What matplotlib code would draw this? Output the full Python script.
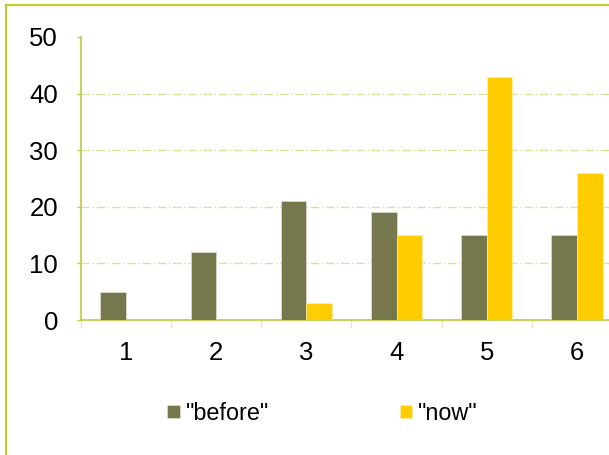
import matplotlib
matplotlib.use('Agg')
import matplotlib.pyplot as plt
from matplotlib.lines import Line2D
import numpy as np

categories = ['1', '2', '3', '4', '5', '6']
before = [5, 12, 21, 19, 15, 15]
now = [0, 0, 3, 15, 43, 26]
y_ticks = [0, 10, 20, 30, 40, 50]

col_before = '#76774c'
col_now = '#ffcc00'
col_axis = '#bfca3c'
col_grid = '#d9e19c'

plt.rcParams['font.family'] = ['Liberation Sans', 'DejaVu Sans']

fig = plt.figure(figsize=(6.09, 4.55), dpi=100)
ax = fig.add_axes([81 / 609, 1 - 320 / 455, 541 / 609, 283 / 455])

x = np.arange(len(categories))
w = 0.285
ax.bar(x - w / 2, before, w, color=col_before, edgecolor='#e8e8e0', linewidth=0.4,
       label='"before"', zorder=3)
ax.bar(x + w / 2, now, w, color=col_now, edgecolor='#fff0b0', linewidth=0.4,
       label='"now"', zorder=3)

ax.set_xlim(-0.5, len(categories) - 0.5)
ax.set_ylim(0, 50)

# category labels in the middle, tick marks on the boundaries
ax.set_xticks(x)
ax.set_xticklabels(categories, fontsize=18.5)
ax.tick_params(axis='x', which='major', length=0, pad=15)
ax.set_xticks(np.arange(len(categories) + 1) - 0.5, minor=True)
ax.tick_params(axis='x', which='minor', length=6, width=1, color='#e4eab8', direction='out')

ax.set_yticks(y_ticks)
ax.set_yticklabels([str(v) for v in y_ticks], fontsize=18.5)
ax.tick_params(axis='y', length=3, width=1, color=col_axis, pad=13.5)

for v in y_ticks[1:-1]:
    ax.axhline(v, color=col_grid, linewidth=1, linestyle='-.', dashes=(6, 2, 1, 2), zorder=1)

for s in ['top', 'right']:
    ax.spines[s].set_visible(False)
for s in ['left', 'bottom']:
    ax.spines[s].set_color(col_axis)
    ax.spines[s].set_linewidth(1.2)

fig.legend(loc='upper left', bbox_to_anchor=(167 / 609, 1 - 402 / 455), ncol=2,
           frameon=False, fontsize=16.8, handlelength=0.55, handleheight=0.45,
           handletextpad=0.25, columnspacing=5.6, borderaxespad=0, borderpad=0)

# outer frame (only left and top edges show)
fig.add_artist(Line2D([6 / 609, 6 / 609], [-0.1, 1 - 5 / 455], color='#c2cb36',
                      linewidth=1.6, transform=fig.transFigure))
fig.add_artist(Line2D([6 / 609, 1.1], [1 - 5 / 455, 1 - 5 / 455], color='#c2cb36',
                      linewidth=1.6, transform=fig.transFigure))

fig.savefig('out.png', dpi=100)
